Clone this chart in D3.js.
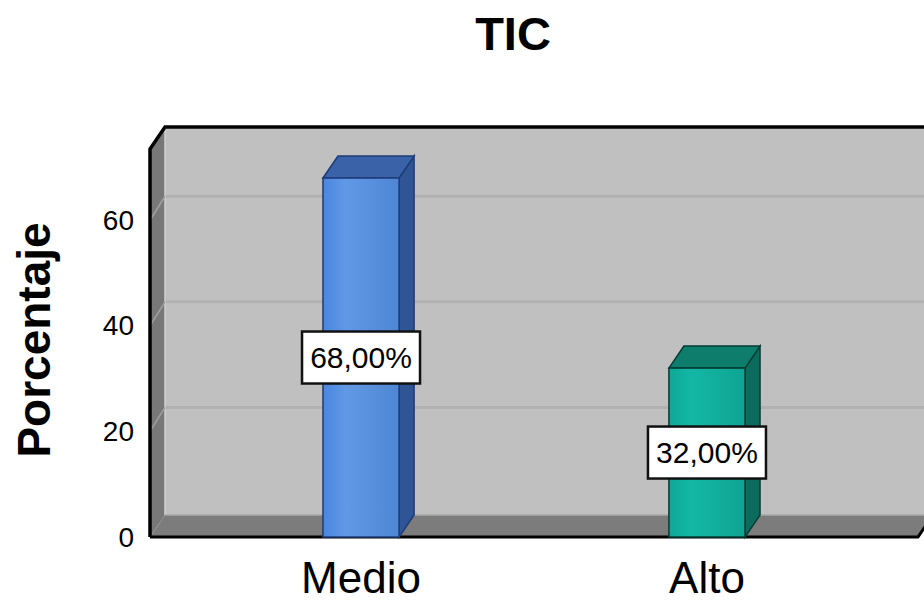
<!DOCTYPE html>
<html><head><meta charset="utf-8">
<script src="https://cdn.jsdelivr.net/npm/d3@7"></script>
<style>body{margin:0;background:#fff}svg{display:block}text{font-family:Arial,"Liberation Sans",sans-serif}</style>
</head><body><svg id="c" width="924" height="602"></svg>
<script>
const categories = ["Medio", "Alto"];
const values = [68, 32];
const valueLabels = ["68,00%", "32,00%"];
const yTicks = [0, 20, 40, 60];
const chartTitle = "TIC";
const yTitle = "Porcentaje";

(function(){
const svg = d3.select("#c");
const W = 924, H = 602;
const dx = 15, dy = -22;
const pLeft = 150, pRight = 918, pBase = 537, pTop = 149;
const y = d3.scaleLinear().domain([0, 73.5]).range([pBase, pTop]);
const x = d3.scaleBand().domain(categories).range([pLeft, pRight]).paddingInner(0.78).paddingOuter(0.5);

const defs = svg.append("defs");
const pal = [
  {front:["#4a86e0","#6199e6","#4f86d4"], topc:"#3a62a8", side:"#2f5597", stroke:"#1e3c78"},
  {front:["#0ea896","#13b8a5","#0fa392"], topc:"#0e7d6c", side:"#0b6c5e", stroke:"#053d34"}
];
pal.forEach((p,i)=>{
  const g = defs.append("linearGradient").attr("id","g"+i).attr("x1","0").attr("x2","1").attr("y1","0").attr("y2","0");
  g.append("stop").attr("offset","0").attr("stop-color",p.front[0]);
  g.append("stop").attr("offset","0.3").attr("stop-color",p.front[1]);
  g.append("stop").attr("offset","1").attr("stop-color",p.front[2]);
});

// back wall
svg.append("rect").attr("x", pLeft+dx).attr("y", pTop+dy).attr("width", pRight-pLeft+20).attr("height", pBase-pTop).attr("fill","#c0c0c0");
yTicks.filter(t=>t>0).forEach(t=>{
  svg.append("line").attr("x1",pLeft+dx).attr("x2",W).attr("y1",y(t)+dy-2).attr("y2",y(t)+dy-2).attr("stroke","#b1b1b1").attr("stroke-width",3);
});
// left wall
svg.append("polygon").attr("points",[[pLeft,pBase],[pLeft,pTop],[pLeft+dx,pTop+dy],[pLeft+dx,pBase+dy]].join(" ")).attr("fill","#787878");
svg.append("line").attr("x1",pLeft+dx).attr("x2",pLeft+dx).attr("y1",pTop+dy).attr("y2",pBase+dy).attr("stroke","#d0d0d0").attr("stroke-width",1.5);
yTicks.filter(t=>t>0).forEach(t=>{
  svg.append("line").attr("x1",pLeft).attr("x2",pLeft+dx).attr("y1",y(t)).attr("y2",y(t)+dy-2).attr("stroke","#a0a0a0").attr("stroke-width",1.5);
});
// floor
svg.append("polygon").attr("points",[[pLeft,pBase],[pRight,pBase],[pRight+dx,pBase+dy],[pLeft+dx,pBase+dy]].join(" ")).attr("fill","#7c7c7c");
svg.append("line").attr("x1",pLeft+dx).attr("x2",pRight+dx).attr("y1",pBase+dy).attr("y2",pBase+dy).attr("stroke","#a8a8a8").attr("stroke-width",1.5);
// outline
svg.append("path").attr("d",`M${pLeft},${pBase}L${pLeft},${pTop}L${pLeft+dx},${pTop+dy}L${W+5},${pTop+dy}`).attr("fill","none").attr("stroke","#000").attr("stroke-width",3.5);
svg.append("path").attr("d",`M${pLeft},${pBase}L${pRight},${pBase}L${pRight+dx},${pBase+dy}`).attr("fill","none").attr("stroke","#000").attr("stroke-width",3);

// bars
categories.forEach((c,i)=>{
  const x0 = x(c), x1 = x(c)+x.bandwidth(), yt = y(values[i]), p = pal[i];
  const g = svg.append("g");
  g.append("polygon").attr("points",[[x1,yt],[x1+dx,yt+dy],[x1+dx,pBase+dy],[x1,pBase]].join(" ")).attr("fill",p.side).attr("stroke",p.stroke).attr("stroke-width",1.5);
  g.append("polygon").attr("points",[[x0,yt],[x0+dx,yt+dy],[x1+dx,yt+dy],[x1,yt]].join(" ")).attr("fill",p.topc).attr("stroke",p.stroke).attr("stroke-width",1.5);
  g.append("rect").attr("x",x0).attr("y",yt).attr("width",x1-x0).attr("height",pBase-yt).attr("fill","url(#g"+i+")").attr("stroke",p.stroke).attr("stroke-width",1.5);
});

// value labels
categories.forEach((c,i)=>{
  const cx = x(c)+x.bandwidth()/2, cy = y(values[i]/2);
  const g = svg.append("g");
  g.append("rect").attr("x",cx-59).attr("y",cy-26).attr("width",118).attr("height",52).attr("fill","#fff").attr("stroke","#111").attr("stroke-width",2.5);
  g.append("text").attr("x",cx).attr("y",cy).attr("text-anchor","middle").attr("dominant-baseline","central").attr("font-size",30).attr("fill","#000").text(valueLabels[i]);
});

// y tick labels
yTicks.forEach(t=>{
  svg.append("text").attr("x",134).attr("y",y(t)).attr("text-anchor","end").attr("dominant-baseline","central").attr("font-size",28).attr("fill","#000").text(t);
});
// category labels
categories.forEach(c=>{
  svg.append("text").attr("x",x(c)+x.bandwidth()/2).attr("y",593).attr("text-anchor","middle").attr("font-size",44).attr("fill","#000").text(c);
});
// titles
svg.append("text").attr("x",513).attr("y",50).attr("text-anchor","middle").attr("font-size",47).attr("font-weight","bold").text(chartTitle);
svg.append("text").attr("transform","translate(50,340) rotate(-90)").attr("text-anchor","middle").attr("font-size",46).attr("font-weight","bold").text(yTitle);
})();
</script></body></html>
